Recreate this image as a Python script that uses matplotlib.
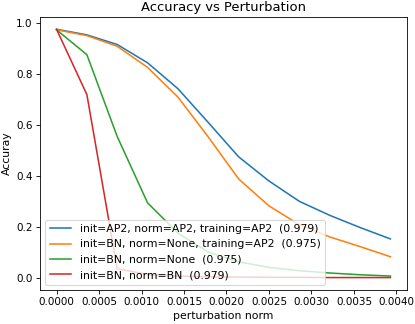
import matplotlib
matplotlib.use('Agg')
from matplotlib import pyplot as plt

# valores
pert = [0.0, 0.000357, 0.000714, 0.001071, 0.001429, 0.001786,
        0.002143, 0.0025, 0.002857, 0.003214, 0.003571, 0.003929]

acc_ap2 = [0.977, 0.955, 0.917, 0.845, 0.743, 0.61, 0.475, 0.38, 0.30, 0.245, 0.197, 0.152]
acc_bn_none_ap2 = [0.975, 0.952, 0.91, 0.827, 0.71, 0.553, 0.388, 0.282, 0.208, 0.16, 0.122, 0.082]
acc_bn_none = [0.975, 0.877, 0.555, 0.294, 0.175, 0.10, 0.062, 0.04, 0.027, 0.018, 0.011, 0.006]
acc_bn_bn = [0.977, 0.72, 0.035, 0.012, 0.006, 0.003, 0.002, 0.001, 0.001, 0.0, 0.0, 0.0]

labels = ['init=AP2, norm=AP2, training=AP2  (0.979)',
          'init=BN, norm=None, training=AP2  (0.975)',
          'init=BN, norm=None  (0.975)',
          'init=BN, norm=BN  (0.979)']

plt.rcParams['font.size'] = 10.4

fig = plt.figure(figsize=(415 / 75, 324 / 75), dpi=75)
ax = fig.add_axes([0.096, 0.105, 0.885, 0.843])

for serie, lab in zip([acc_ap2, acc_bn_none_ap2, acc_bn_none, acc_bn_bn], labels):
    ax.plot(pert, serie, label=lab)

ax.set_xticks([0.0, 0.0005, 0.001, 0.0015, 0.002, 0.0025, 0.003, 0.0035, 0.004])
ax.set_xticklabels(['0.0000', '0.0005', '0.0010', '0.0015', '0.0020',
                    '0.0025', '0.0030', '0.0035', '0.0040'], fontsize=10)
ax.tick_params(axis='y', labelsize=10)
ax.set_xlabel('perturbation norm')
ax.set_ylabel('Accuray')
ax.set_title('Accuracy vs Perturbation', fontsize=12.6)
ax.legend(loc='lower left')

fig.savefig('out.png', dpi=75)
